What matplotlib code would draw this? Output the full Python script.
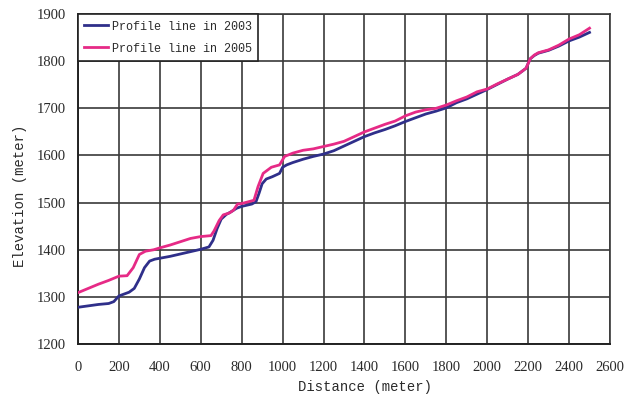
import matplotlib
matplotlib.use("Agg")
import matplotlib.pyplot as plt

# Profile line in 2003
dist_2003 = [0, 50, 100, 150, 175, 200, 225, 250, 275, 300, 325, 350, 375, 400, 450, 500,
             550, 600, 640, 660, 680, 700, 725, 750, 775, 800, 850, 870, 885, 900, 920, 950,
             985, 1000, 1020, 1050, 1100, 1150, 1200, 1250, 1300, 1350, 1400, 1450, 1500,
             1550, 1600, 1650, 1700, 1750, 1800, 1850, 1900, 1950, 2000, 2050, 2100, 2150,
             2190, 2210, 2230, 2250, 2300, 2350, 2400, 2450, 2500]
elev_2003 = [1278, 1281, 1284, 1286, 1290, 1302, 1306, 1310, 1318, 1338, 1362, 1376, 1380,
             1382, 1386, 1391, 1396, 1401, 1406, 1420, 1445, 1465, 1475, 1481, 1488, 1492,
             1497, 1502, 1520, 1540, 1550, 1555, 1562, 1575, 1580, 1585, 1592, 1598, 1603,
             1610, 1620, 1630, 1640, 1648, 1655, 1663, 1672, 1680, 1688, 1694, 1701, 1712,
             1720, 1730, 1740, 1751, 1762, 1772, 1785, 1805, 1812, 1817, 1823, 1832, 1843,
             1851, 1861]

# Profile line in 2005
dist_2005 = [0, 50, 100, 150, 200, 240, 270, 300, 330, 370, 400, 450, 500, 550, 600, 650,
             665, 690, 710, 740, 760, 780, 800, 860, 880, 905, 945, 985, 1010, 1050, 1100,
             1150, 1200, 1250, 1300, 1350, 1400, 1450, 1500, 1550, 1600, 1650, 1700, 1750,
             1800, 1850, 1900, 1950, 2000, 2050, 2100, 2150, 2190, 2210, 2230, 2250, 2300,
             2350, 2400, 2450, 2500]
elev_2005 = [1309, 1318, 1327, 1335, 1344, 1345, 1362, 1390, 1397, 1400, 1404, 1410, 1417,
             1424, 1428, 1430, 1440, 1462, 1474, 1478, 1484, 1497, 1498, 1505, 1534, 1562,
             1575, 1580, 1598, 1605, 1611, 1614, 1619, 1624, 1630, 1640, 1650, 1658, 1666,
             1673, 1684, 1692, 1697, 1700, 1707, 1716, 1724, 1735, 1741, 1752, 1762, 1772,
             1785, 1805, 1813, 1818, 1824, 1834, 1847, 1856, 1870]

x_ticks = list(range(0, 2601, 200))
y_ticks = list(range(1200, 1901, 100))

fig = plt.figure(figsize=(6.35, 4.01), dpi=100)
ax = fig.add_axes([0.1228, 0.142, 0.8378, 0.823])

ax.plot(dist_2003, elev_2003, color="#2f2f8a", lw=2.0, label="Profile line in 2003", zorder=3)
ax.plot(dist_2005, elev_2005, color="#e62a86", lw=2.0, label="Profile line in 2005", zorder=4)

ax.set_xlim(0, 2600)
ax.set_ylim(1200, 1900)
ax.set_xticks(x_ticks)
ax.set_yticks(y_ticks)
ax.grid(True, color="#3a3a3a", lw=1.2)
ax.set_axisbelow(True)
for s in ["top", "right"]:
    ax.spines[s].set_color("#3a3a3a")
    ax.spines[s].set_linewidth(1.2)
for s in ["left", "bottom"]:
    ax.spines[s].set_color("#222222")
    ax.spines[s].set_linewidth(1.4)
ax.tick_params(axis="x", length=0, pad=12, labelsize=10.5, colors="#2a2a2a")
ax.tick_params(axis="y", length=0, pad=9, labelsize=10.5, colors="#2a2a2a")
for lbl in ax.get_xticklabels() + ax.get_yticklabels():
    lbl.set_family("Liberation Serif")

ax.set_xlabel("Distance (meter)", family="Liberation Mono", fontsize=10, color="#2a2a2a")
ax.set_ylabel("Elevation (meter)", family="Liberation Mono", fontsize=10, color="#2a2a2a")
ax.xaxis.set_label_coords(0.54, -0.108)
ax.yaxis.set_label_coords(-0.095, 0.45)

leg = ax.legend(loc="upper left", bbox_to_anchor=(0, 1), borderaxespad=0, fancybox=False,
                framealpha=1, edgecolor="#222222", handlelength=2.0, handletextpad=0.3,
                borderpad=0.55, labelspacing=0.85,
                prop={"family": "Liberation Mono", "size": 8.5})
leg.get_frame().set_linewidth(1.2)
for t in leg.get_texts():
    t.set_color("#2a2a2a")

fig.savefig("out.png", dpi=100)
